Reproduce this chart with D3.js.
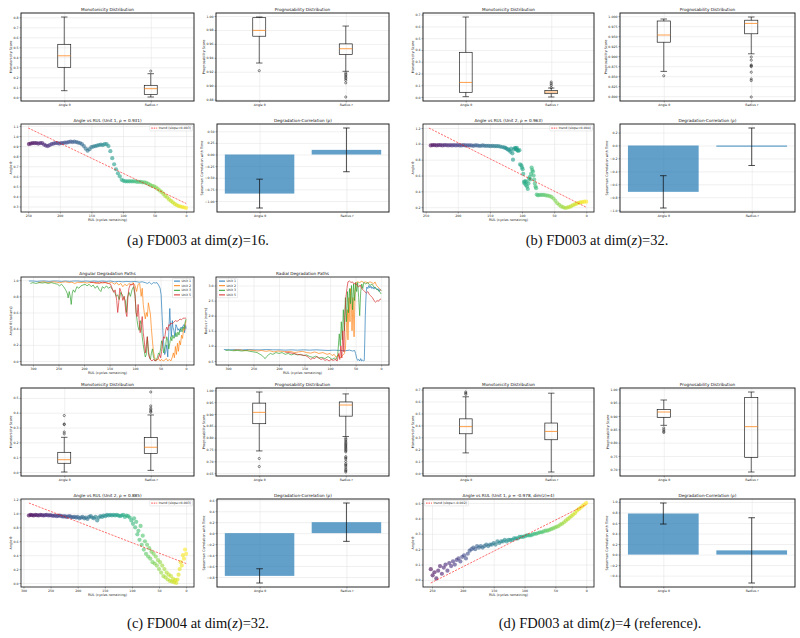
<!DOCTYPE html>
<html>
<head>
<meta charset="utf-8">
<script src="https://cdn.jsdelivr.net/npm/d3@7"></script>
<style>
body{margin:0;background:#fff}
svg{display:block}
</style>
</head>
<body>
<script>
// ---------- data ----------
var boxCats=["Angle θ","Radius r"];
var unitNames=["Unit 1","Unit 2","Unit 3","Unit 5"];
var captions=["(a) FD003","(b) FD003","(c) FD004","(d) FD003"];
var captionDims=["16","32","32","4"];

// box stats: [low whisker, q1, median, q3, high whisker]
var monoA=[[0.066,0.30,0.415,0.53,0.803],[0.003,0.027,0.086,0.12,0.236]];
var monoAOut=[[],[0.262]];
var progA=[[0.9325,0.971,0.9794,0.9976,0.9986],[0.9206,0.9445,0.953,0.960,0.9856]];
var progAOut=[[0.9215],[0.918,0.916,0.914,0.912,0.910,0.9077,0.904,0.8837]];
var corrA=[-0.84,0.10];
var corrAErr=[0.31,0.47];
var trendA=[[250,1.08],[0,0.33]];
var slopeA="0.003";

var monoB=[[0.003,0.04,0.124,0.38,0.68],[0.0,0.028,0.042,0.056,0.076]];
var monoBOut=[[],[0.08,0.10,0.113,0.127]];
var progB=[[0.862,0.935,0.953,0.988,0.993],[0.906,0.956,0.982,0.990,0.998]];
var progBOut=[[0.851],[0.898,0.890,0.878,0.876,0.874,0.860,0.843,0.839,0.798]];
var corrB=[-0.717,-0.019];
var corrBErr=[0.25,0.29];
var trendB=[[245,1.20],[0,0.20]];
var slopeB="0.004";

var monoC=[[0.0,0.059,0.083,0.133,0.234],[0.011,0.126,0.167,0.232,0.385]];
var monoCOut=[[0.257,0.27,0.32,0.324,0.381],[0.403,0.41,0.42,0.43,0.446,0.54]];
var progC=[[0.744,0.859,0.907,0.946,0.993],[0.805,0.891,0.938,0.951,0.985]];
var progCOut=[[0.712,0.678],[0.798,0.792,0.786,0.78,0.775,0.77,0.765,0.76,0.755,0.75,0.745,0.74,0.72,0.715,0.71,0.70,0.69,0.685,0.68,0.672,0.665,0.66,0.655]];
var corrC=[-0.78,0.20];
var corrCErr=[0.13,0.35];
var trendC=[[290,1.15],[0,0.28]];
var slopeC="0.003";

var monoD=[[0.17,0.33,0.39,0.455,0.64],[0.01,0.28,0.35,0.42,0.67]];
var monoDOut=[[0.66,0.67,0.68],[]];
var progD=[[0.865,0.895,0.915,0.925,0.96],[0.69,0.745,0.86,0.97,0.99]];
var progDOut=[[0.855,0.848,0.842,0.838],[]];
var corrD=[0.78,0.08];
var corrDErr=[0.20,0.62];
var trendD=[[252,-0.02],[0,0.49]];
var slopeD="-0.002";

// angle vs RUL scatter points: [RUL, angle]
var angleA=[[249,0.92],[246,0.925],[243,0.93],[240,0.93],[237,0.93],[234,0.925],[231,0.93],[228,0.93],[225,0.915],[222,0.905],[219,0.90],[216,0.91],[213,0.92],[210,0.925],[207,0.93],[204,0.93],[201,0.925],[198,0.93],[195,0.93],[192,0.935],[189,0.935],[186,0.94],[183,0.945],[180,0.94],[177,0.945],[174,0.94],[171,0.935],[168,0.93],[165,0.92],[162,0.90],[159,0.875],[156,0.855],[153,0.87],[150,0.89],[147,0.895],[144,0.90],[141,0.905],[138,0.91],[135,0.915],[132,0.91],[129,0.92],[126,0.92],[123,0.90],[120,0.85],[117,0.78],[114,0.72],[111,0.67],[108,0.63],[105,0.60],[102,0.565],[99,0.555],[96,0.55],[93,0.55],[90,0.55],[87,0.55],[84,0.55],[81,0.55],[78,0.545],[75,0.545],[72,0.545],[69,0.54],[66,0.54],[63,0.535],[60,0.525],[57,0.515],[54,0.505],[51,0.50],[48,0.49],[45,0.475],[42,0.46],[39,0.445],[36,0.425],[33,0.405],[30,0.39],[27,0.37],[24,0.355],[21,0.34],[18,0.325],[15,0.315],[12,0.305],[9,0.30],[6,0.295],[3,0.29],[0,0.285]];

var angleB=[[242,0.98],[239,0.985],[236,0.985],[233,0.98],[230,0.985],[227,0.985],[224,0.98],[221,0.985],[218,0.985],[215,0.98],[212,0.985],[209,0.98],[206,0.985],[203,0.98],[200,0.985],[197,0.98],[194,0.98],[191,0.985],[188,0.98],[185,0.98],[182,0.98],[179,0.98],[176,0.975],[173,0.98],[170,0.98],[167,0.975],[164,0.975],[161,0.98],[158,0.975],[155,0.975],[152,0.975],[149,0.97],[146,0.975],[143,0.97],[140,0.97],[137,0.97],[134,0.965],[131,0.96],[128,0.955],[126,0.95],[124,0.94],[122,0.93],[120,0.92],[118,0.90],[117,0.94],[115,0.88],[114,0.80],[113,0.93],[111,0.95],[110,0.94],[109,0.93],[108,0.95],[107,0.92],[106,0.91],[104,0.92],[103,0.74],[101,0.73],[100,0.70],[99,0.68],[98,0.62],[97,0.52],[96,0.50],[95,0.53],[94,0.48],[93,0.52],[92,0.46],[91,0.43],[90,0.50],[89,0.56],[88,0.58],[87,0.55],[86,0.62],[85,0.70],[84,0.67],[83,0.65],[82,0.60],[81,0.55],[80,0.50],[79,0.46],[78,0.44],[77,0.36],[75,0.35],[72,0.355],[69,0.355],[66,0.355],[63,0.35],[60,0.345],[57,0.34],[54,0.33],[51,0.31],[48,0.28],[45,0.25],[42,0.23],[39,0.21],[36,0.20],[33,0.19],[30,0.195],[27,0.20],[24,0.21],[21,0.225],[18,0.235],[15,0.245],[12,0.255],[9,0.26],[6,0.265],[3,0.27],[0,0.27]];

var angleC=[[290,0.97],[287,0.98],[284,0.975],[281,0.97],[278,0.98],[275,0.975],[272,0.97],[269,0.98],[266,0.975],[263,0.97],[260,0.975],[257,0.98],[254,0.97],[251,0.975],[248,0.97],[245,0.965],[242,0.97],[239,0.96],[236,0.965],[233,0.97],[230,0.96],[227,0.955],[224,0.96],[221,0.95],[218,0.955],[215,0.96],[212,0.95],[209,0.945],[206,0.95],[203,0.94],[200,0.95],[197,0.93],[194,0.94],[191,0.95],[188,0.93],[185,0.94],[182,0.92],[179,0.95],[176,0.96],[173,0.94],[170,0.93],[167,0.95],[164,0.90],[161,0.94],[158,0.96],[155,0.95],[152,0.97],[149,0.96],[146,0.98],[143,0.97],[140,0.98],[137,0.97],[134,0.98],[131,0.97],[128,0.98],[125,0.97],[122,0.96],[119,0.97],[116,0.98],[113,0.95],[110,0.97],[107,0.96],[104,0.94],[101,0.90],[98,0.85],[96,0.93],[94,0.80],[92,0.88],[90,0.70],[88,0.75],[86,0.62],[84,0.82],[82,0.55],[80,0.68],[78,0.48],[76,0.60],[74,0.42],[72,0.55],[70,0.38],[68,0.50],[66,0.35],[64,0.45],[62,0.30],[60,0.42],[58,0.28],[56,0.38],[54,0.25],[52,0.33],[50,0.20],[48,0.30],[46,0.15],[44,0.25],[42,0.10],[40,0.20],[38,0.08],[36,0.15],[34,0.05],[32,0.12],[30,0.03],[28,0.10],[26,0.02],[24,0.06],[22,0.01],[20,0.04],[18,0.0],[16,0.05],[14,0.12],[12,0.20],[10,0.30],[8,0.25],[6,0.40],[4,0.35],[2,0.48],[0,0.42]];

var angleD=[[252,0.07],[249,0.03],[246,0.05],[243,0.01],[240,0.06],[237,0.09],[234,0.04],[231,0.08],[228,0.10],[225,0.06],[222,0.11],[219,0.09],[216,0.12],[213,0.10],[210,0.13],[207,0.14],[204,0.12],[201,0.15],[198,0.16],[195,0.14],[192,0.17],[189,0.19],[186,0.20],[183,0.21],[180,0.20],[177,0.22],[174,0.21],[171,0.22],[168,0.21],[165,0.22],[162,0.23],[159,0.22],[156,0.23],[153,0.23],[150,0.24],[147,0.23],[144,0.25],[141,0.24],[138,0.25],[135,0.25],[132,0.26],[129,0.25],[126,0.26],[123,0.26],[120,0.26],[117,0.27],[114,0.27],[111,0.27],[108,0.28],[105,0.28],[102,0.28],[99,0.285],[96,0.29],[93,0.29],[90,0.29],[87,0.295],[84,0.30],[81,0.30],[78,0.305],[75,0.31],[72,0.31],[69,0.315],[66,0.32],[63,0.32],[60,0.325],[57,0.33],[54,0.335],[51,0.34],[48,0.345],[45,0.35],[42,0.36],[39,0.365],[36,0.375],[33,0.385],[30,0.395],[27,0.405],[24,0.415],[21,0.425],[18,0.435],[15,0.45],[12,0.46],[9,0.47],[6,0.48],[3,0.49],[0,0.50]];

// FD004 degradation paths: [RUL, value]
var pathAngle1=[[308,0.99],[300,0.99],[292,0.985],[284,0.99],[276,0.99],[268,0.985],[260,0.99],[252,0.99],[244,0.985],[236,0.99],[228,0.985],[220,0.99],[212,0.99],[204,0.985],[196,0.99],[188,0.985],[180,0.99],[172,0.985],[164,0.99],[156,0.985],[148,0.99],[140,0.98],[132,0.985],[124,0.98],[116,0.985],[108,0.98],[100,0.985],[92,0.975],[86,0.98],[80,0.97],[76,0.96],[72,0.975],[68,0.95],[64,0.97],[60,0.965],[57,0.97],[54,0.94],[51,0.90],[49,0.82],[47,0.55],[45,0.30],[43,0.15],[42,0.08],[40,0.12],[38,0.20],[36,0.05],[34,0.35],[32,0.65],[31,0.50],[29,0.30],[27,0.50],[26,0.42],[24,0.38],[22,0.30],[20,0.45],[18,0.42],[16,0.38],[14,0.40],[12,0.36],[10,0.42],[8,0.40],[6,0.44],[4,0.45],[3,0.35],[1,0.44],[0,0.40]];
var pathAngle2=[[290,0.97],[284,0.975],[278,0.98],[272,0.97],[266,0.975],[260,0.98],[254,0.975],[248,0.97],[242,0.975],[236,0.98],[230,0.97],[224,0.975],[218,0.96],[212,0.975],[206,0.97],[200,0.975],[194,0.965],[188,0.975],[182,0.97],[176,0.96],[170,0.975],[164,0.965],[158,0.97],[152,0.96],[146,0.975],[140,0.95],[136,0.97],[132,0.94],[128,0.96],[124,0.92],[120,0.95],[116,0.93],[112,0.96],[108,0.94],[104,0.97],[100,0.93],[97,0.86],[94,0.95],[91,0.96],[88,0.80],[86,0.90],[84,0.70],[82,0.60],[80,0.52],[78,0.60],[76,0.55],[74,0.72],[72,0.65],[70,0.58],[68,0.40],[66,0.25],[64,0.12],[62,0.05],[60,0.02],[57,0.01],[54,0.03],[51,0.0],[48,0.02],[45,0.0],[42,0.01],[39,0.03],[36,0.0],[33,0.02],[30,0.0],[27,0.05],[25,0.10],[23,0.04],[21,0.18],[19,0.08],[17,0.22],[15,0.12],[13,0.25],[11,0.20],[9,0.32],[7,0.28],[5,0.40],[3,0.38],[1,0.48],[0,0.50]];
var pathAngle3=[[305,0.96],[300,0.97],[294,0.96],[288,0.97],[282,0.965],[276,0.97],[270,0.96],[264,0.97],[258,0.96],[252,0.95],[248,0.93],[244,0.95],[240,0.92],[236,0.88],[233,0.84],[231,0.78],[229,0.86],[227,0.80],[225,0.70],[223,0.84],[221,0.88],[218,0.85],[214,0.92],[210,0.90],[206,0.93],[202,0.94],[198,0.95],[194,0.93],[190,0.95],[186,0.92],[182,0.94],[178,0.90],[174,0.93],[170,0.88],[167,0.86],[164,0.92],[160,0.90],[156,0.93],[152,0.90],[148,0.92],[144,0.88],[140,0.85],[137,0.80],[134,0.82],[131,0.76],[128,0.85],[125,0.82],[122,0.78],[119,0.75],[117,0.60],[115,0.78],[112,0.85],[109,0.80],[106,0.88],[103,0.92],[100,0.80],[98,0.60],[96,0.50],[94,0.42],[92,0.38],[90,0.50],[88,0.45],[86,0.30],[84,0.20],[82,0.12],[80,0.05],[78,0.08],[76,0.30],[74,0.15],[72,0.05],[70,0.02],[68,0.10],[66,0.15],[64,0.05],[62,0.02],[60,0.0],[58,0.02],[56,0.05],[54,0.10],[52,0.08],[50,0.15],[48,0.25],[46,0.20],[44,0.10],[42,0.15],[40,0.20],[38,0.30],[36,0.25],[34,0.15],[32,0.22],[30,0.30],[28,0.25],[26,0.32],[24,0.28],[22,0.30],[20,0.35],[18,0.30],[16,0.36],[14,0.32],[12,0.38],[10,0.40],[8,0.36],[6,0.42],[4,0.40],[2,0.48],[0,0.52]];
var pathAngle5=[[188,0.97],[182,0.975],[176,0.97],[170,0.96],[164,0.975],[158,0.97],[152,0.96],[148,0.95],[145,0.90],[142,0.85],[139,0.88],[136,0.75],[134,0.60],[132,0.72],[130,0.90],[127,0.85],[124,0.75],[121,0.80],[118,0.60],[116,0.55],[114,0.80],[112,0.90],[109,0.95],[106,0.94],[103,0.96],[100,0.82],[98,0.60],[96,0.55],[94,0.70],[92,0.50],[90,0.35],[88,0.45],[86,0.55],[84,0.35],[82,0.25],[80,0.10],[78,0.20],[76,0.30],[74,0.10],[72,0.05],[70,0.02],[67,0.0],[64,0.02],[61,0.0],[58,0.01],[55,0.03],[52,0.08],[50,0.04],[48,0.12],[46,0.25],[44,0.30],[42,0.28],[40,0.38],[38,0.42],[36,0.38],[34,0.45],[32,0.44],[30,0.47],[27,0.46],[24,0.48],[21,0.50],[18,0.49],[15,0.50],[12,0.52],[9,0.51],[6,0.53],[3,0.53],[0,0.53]];

var pathRadius1=[[308,0.88],[296,0.87],[284,0.88],[272,0.87],[260,0.88],[248,0.87],[236,0.87],[224,0.88],[212,0.87],[200,0.87],[188,0.86],[176,0.87],[164,0.86],[152,0.87],[140,0.86],[128,0.87],[116,0.86],[104,0.85],[92,0.86],[80,0.85],[70,0.84],[62,0.86],[56,0.83],[52,0.85],[50,0.75],[48,0.60],[46,0.52],[44,0.55],[42,0.50],[40,0.58],[38,0.50],[36,0.53],[34,0.50],[33,0.52],[32,1.2],[31,2.0],[30,2.5],[29,2.8],[28,2.95],[26,2.9],[24,3.0],[22,2.92],[20,2.98],[18,2.9],[16,2.95],[14,2.88],[12,2.95],[10,2.9],[8,2.85],[6,2.9],[4,2.8],[2,2.88],[0,2.82]];
var pathRadius2=[[290,0.85],[282,0.87],[274,0.86],[266,0.84],[258,0.86],[250,0.85],[242,0.83],[234,0.85],[226,0.82],[218,0.84],[210,0.80],[202,0.83],[194,0.82],[186,0.80],[178,0.82],[170,0.78],[162,0.80],[154,0.82],[146,0.78],[138,0.76],[130,0.80],[122,0.75],[114,0.78],[106,0.72],[100,0.75],[96,0.68],[92,0.72],[88,0.62],[84,0.70],[80,0.60],[76,0.68],[72,0.75],[70,0.90],[68,1.6],[66,2.2],[65,1.2],[63,2.6],[61,1.8],[60,2.9],[58,2.2],[57,1.5],[55,2.6],[53,1.3],[51,2.8],[49,3.1],[46,3.12],[42,3.1],[38,3.14],[34,3.1],[30,3.12],[26,3.08],[22,3.12],[18,3.1],[15,3.05],[12,3.12],[9,3.0],[6,2.95],[3,2.9],[0,2.82]];
var pathRadius3=[[305,0.85],[297,0.86],[289,0.84],[281,0.85],[273,0.83],[265,0.85],[257,0.82],[249,0.80],[243,0.78],[237,0.72],[233,0.68],[230,0.62],[227,0.58],[224,0.65],[221,0.70],[217,0.75],[212,0.72],[206,0.78],[200,0.75],[194,0.78],[188,0.72],[182,0.75],[176,0.70],[170,0.74],[164,0.70],[158,0.72],[152,0.68],[146,0.70],[140,0.65],[134,0.62],[128,0.66],[122,0.60],[116,0.62],[110,0.58],[104,0.65],[100,0.60],[96,0.55],[92,0.60],[88,0.55],[85,0.70],[82,1.4],[80,1.0],[78,1.8],[76,1.2],[74,2.2],[72,1.5],[70,2.6],[68,1.8],[66,2.8],[64,2.1],[62,2.9],[60,2.4],[58,3.0],[56,2.2],[54,3.05],[52,2.5],[50,3.1],[48,2.8],[46,3.1],[44,2.6],[42,2.0],[40,2.8],[38,3.05],[36,2.9],[34,3.1],[30,3.05],[26,3.1],[22,3.0],[18,3.05],[14,2.95],[10,2.9],[6,2.85],[3,2.8],[0,2.72]];
var pathRadius5=[[188,0.80],[180,0.78],[172,0.75],[164,0.72],[156,0.70],[148,0.68],[142,0.62],[138,0.55],[134,0.60],[130,0.58],[126,0.65],[122,0.60],[118,0.55],[114,0.58],[110,0.52],[106,0.55],[102,0.50],[98,0.55],[94,0.52],[90,0.55],[86,0.50],[83,0.75],[81,0.55],[79,1.0],[77,0.60],[75,1.5],[73,0.80],[71,2.0],[69,2.6],[67,2.9],[65,3.12],[62,3.15],[59,3.1],[56,3.12],[53,3.05],[50,3.08],[47,3.0],[44,2.95],[41,3.02],[38,2.9],[35,2.85],[32,2.8],[29,2.75],[26,2.8],[23,2.7],[20,2.65],[17,2.6],[14,2.5],[11,2.45],[8,2.5],[5,2.48],[2,2.55],[0,2.55]];

var unitColors=["#1f77b4","#ff7f0e","#2ca02c","#d62728"];

// ---------- drawing ----------
var FONT='"DejaVu Sans", sans-serif';
var FS_TITLE=4.2, FS_TICK=3.2, FS_LABEL=3.4, FS_LEG=3.2;

var svg=d3.select("body").append("svg").attr("width",800).attr("height",638);

function pad(lo,hi){var m=(hi-lo)*0.05;return [lo-m,hi+m];}

function axes(r,xDom,yDom,o){
    var x0=r[0],y0=r[1],x1=r[2],y1=r[3];
    var x=d3.scaleLinear().domain(xDom).range([x0,x1]);
    var y=d3.scaleLinear().domain(yDom).range([y1,y0]);
    var ylo=Math.min(yDom[0],yDom[1]),yhi=Math.max(yDom[0],yDom[1]);
    var yT=o.yTicks.filter(function(v){return v>=ylo-1e-9&&v<=yhi+1e-9;});
    var g=svg.append("g");
    var grid=g.append("g");
    grid.append("g").attr("transform","translate(0,"+y1+")")
        .call(d3.axisBottom(x).tickValues(o.xTicks).tickSize(-(y1-y0)).tickFormat(""));
    grid.append("g").attr("transform","translate("+x0+",0)")
        .call(d3.axisLeft(y).tickValues(yT).tickSize(-(x1-x0)).tickFormat(""));
    grid.selectAll(".domain").remove();
    grid.selectAll("line").attr("stroke","#e0e0e0").attr("stroke-width",0.5);
    var marks=g.append("g");
    var xa=g.append("g").attr("transform","translate(0,"+y1+")")
        .call(d3.axisBottom(x).tickValues(o.xTicks).tickFormat(o.xFmt).tickSizeOuter(0).tickSizeInner(1.5).tickPadding(1));
    var ya=g.append("g").attr("transform","translate("+x0+",0)")
        .call(d3.axisLeft(y).tickValues(yT).tickFormat(o.yFmt).tickSizeOuter(0).tickSizeInner(1.5).tickPadding(1));
    [xa,ya].forEach(function(a){
        a.select(".domain").remove();
        a.attr("font-size",FS_TICK).attr("font-family",FONT);
        a.selectAll("line").attr("stroke","#333").attr("stroke-width",0.4);
        a.selectAll("text").attr("fill","#222");
    });
    g.append("rect").attr("x",x0).attr("y",y0).attr("width",x1-x0).attr("height",y1-y0)
        .attr("fill","none").attr("stroke","#1a1a1a").attr("stroke-width",o.frameW||0.85);
    g.append("text").attr("x",(x0+x1)/2).attr("y",y0-2.2).attr("text-anchor","middle")
        .attr("font-size",FS_TITLE).attr("font-family",FONT).attr("fill","#111").text(o.title);
    if(o.xLabel){
        g.append("text").attr("x",(x0+x1)/2).attr("y",y1+8.6).attr("text-anchor","middle")
            .attr("font-size",FS_LABEL).attr("font-family",FONT).attr("fill","#222").text(o.xLabel);
    }
    if(o.yLabel){
        // getBBox is in the axis group's own coordinates (shifted by x0)
        var bb=ya.node().getBBox();
        g.append("text").attr("transform","translate("+(x0+bb.x-1.4)+","+((y0+y1)/2)+") rotate(-90)")
            .attr("text-anchor","middle").attr("font-size",FS_LABEL).attr("font-family",FONT)
            .attr("fill","#222").text(o.yLabel);
    }
    return {x:x,y:y,marks:marks,g:g};
}

function legend(a,items,corner,r){
    var lg=a.g.append("g");
    var box=lg.append("rect").attr("fill","#fff").attr("fill-opacity",0.85)
        .attr("stroke","#ccc").attr("stroke-width",0.4).attr("rx",0.8);
    var rowH=4.6,w=0;
    items.forEach(function(it,i){
        var yy=2.6+i*rowH;
        lg.append("line").attr("x1",1.5).attr("x2",7.5).attr("y1",yy).attr("y2",yy)
            .attr("stroke",it.color).attr("stroke-width",it.dash?0.7:1)
            .attr("stroke-dasharray",it.dash?"1.6,0.9":null);
        var t=lg.append("text").attr("x",9).attr("y",yy+1.1).attr("font-size",FS_LEG)
            .attr("font-family",FONT).attr("fill","#222").text(it.label);
        w=Math.max(w,t.node().getComputedTextLength());
    });
    var bw=w+10.5,bh=items.length*rowH+0.8;
    box.attr("width",bw).attr("height",bh);
    var lx=corner==="left"?r[0]+1.5:r[2]-1.5-bw;
    lg.attr("transform","translate("+lx+","+(r[1]+1.5)+")");
}

function boxPanel(r,stats,fliers,yTicks,yFmt,title,yLabel){
    var all=d3.merge(stats).concat(d3.merge(fliers));
    var a=axes(r,[0.5,2.5],pad(d3.min(all),d3.max(all)),{
        xTicks:[1,2],xFmt:function(d,i){return boxCats[i];},
        yTicks:yTicks,yFmt:d3.format(yFmt),title:title,yLabel:yLabel,frameW:0.95});
    stats.forEach(function(s,i){
        var cx=a.x(i+1),hw=a.x(1.075)-a.x(1),cw=hw/2;
        var m=a.marks.append("g").attr("stroke","#111").attr("stroke-width",0.65).attr("fill","none");
        m.append("line").attr("x1",cx).attr("x2",cx).attr("y1",a.y(s[0])).attr("y2",a.y(s[1]));
        m.append("line").attr("x1",cx).attr("x2",cx).attr("y1",a.y(s[3])).attr("y2",a.y(s[4]));
        m.append("line").attr("x1",cx-cw).attr("x2",cx+cw).attr("y1",a.y(s[0])).attr("y2",a.y(s[0]));
        m.append("line").attr("x1",cx-cw).attr("x2",cx+cw).attr("y1",a.y(s[4])).attr("y2",a.y(s[4]));
        m.append("rect").attr("x",cx-hw).attr("width",2*hw).attr("y",a.y(s[3])).attr("height",a.y(s[1])-a.y(s[3]));
        a.marks.append("line").attr("x1",cx-hw).attr("x2",cx+hw).attr("y1",a.y(s[2])).attr("y2",a.y(s[2]))
            .attr("stroke","#ff7f0e").attr("stroke-width",0.75);
        a.marks.selectAll(null).data(fliers[i]).join("circle")
            .attr("cx",cx).attr("cy",function(d){return a.y(d);}).attr("r",1.1)
            .attr("fill","none").attr("stroke","#111").attr("stroke-width",0.5);
    });
}

function barPanel(r,vals,errs,yTicks,yFmt){
    var lo=d3.min(vals.map(function(v,i){return Math.min(0,v-errs[i]);}));
    var hi=d3.max(vals.map(function(v,i){return Math.max(0,v+errs[i]);}));
    var a=axes(r,[-0.49,1.49],pad(lo,hi),{
        xTicks:[0,1],xFmt:function(d,i){return boxCats[i];},
        yTicks:yTicks,yFmt:d3.format(yFmt),title:"Degradation-Correlation (ρ)",
        yLabel:"Spearman Correlation with Time",frameW:0.95});
    a.marks.selectAll("rect.bar").data(vals).join("rect").attr("class","bar")
        .attr("x",function(d,i){return a.x(i-0.4);}).attr("width",a.x(0.8)-a.x(0))
        .attr("y",function(d){return a.y(Math.max(0,d));})
        .attr("height",function(d){return Math.abs(a.y(d)-a.y(0));})
        .attr("fill","#1f77b4").attr("fill-opacity",0.7);
    vals.forEach(function(v,i){
        var cx=a.x(i),e=a.marks.append("g").attr("stroke","#111").attr("stroke-width",0.75);
        e.append("line").attr("x1",cx).attr("x2",cx).attr("y1",a.y(v-errs[i])).attr("y2",a.y(v+errs[i]));
        e.append("line").attr("x1",cx-3.3).attr("x2",cx+3.3).attr("y1",a.y(v-errs[i])).attr("y2",a.y(v-errs[i]));
        e.append("line").attr("x1",cx-3.3).attr("x2",cx+3.3).attr("y1",a.y(v+errs[i])).attr("y2",a.y(v+errs[i]));
    });
}

function scatterPanel(r,pts,trend,slope,xTicks,yTicks,title,corner){
    var xs=pts.map(function(p){return p[0];}),ys=pts.map(function(p){return p[1];});
    var xd=pad(d3.min(xs),d3.max(xs));
    var yd=pad(Math.min(d3.min(ys),trend[0][1],trend[1][1]),Math.max(d3.max(ys),trend[0][1],trend[1][1]));
    var a=axes(r,[xd[1],xd[0]],yd,{xTicks:xTicks,xFmt:d3.format("d"),yTicks:yTicks,yFmt:d3.format(".1f"),
        title:title,xLabel:"RUL (cycles remaining)",yLabel:"Angle θ"});
    var col=d3.scaleSequential(d3.interpolateViridis).domain([d3.max(xs),0]);
    a.marks.selectAll("circle").data(pts).join("circle")
        .attr("cx",function(d){return a.x(d[0]);}).attr("cy",function(d){return a.y(d[1]);})
        .attr("r",2.1).attr("fill",function(d){return col(d[0]);}).attr("fill-opacity",0.6);
    a.marks.append("line").attr("x1",a.x(trend[0][0])).attr("y1",a.y(trend[0][1]))
        .attr("x2",a.x(trend[1][0])).attr("y2",a.y(trend[1][1]))
        .attr("stroke","#ff0000").attr("stroke-opacity",0.8).attr("stroke-width",0.7).attr("stroke-dasharray","2.2,1.2");
    legend(a,[{color:"#ff0000",dash:true,label:"trend (slope="+slope+")"}],corner,r);
}

function pathPanel(r,series,xTicks,yTicks,title,yLabel,corner){
    var all=d3.merge(series);
    var xd=pad(d3.min(all,function(p){return p[0];}),d3.max(all,function(p){return p[0];}));
    var yd=pad(d3.min(all,function(p){return p[1];}),d3.max(all,function(p){return p[1];}));
    var a=axes(r,[xd[1],xd[0]],yd,{xTicks:xTicks,xFmt:d3.format("d"),yTicks:yTicks,yFmt:d3.format(".1f"),
        title:title,xLabel:"RUL (cycles remaining)",yLabel:yLabel});
    var line=d3.line().x(function(d){return a.x(d[0]);}).y(function(d){return a.y(d[1]);});
    series.forEach(function(s,i){
        a.marks.append("path").attr("d",line(s)).attr("fill","none").attr("stroke",unitColors[i])
            .attr("stroke-width",0.8).attr("stroke-opacity",0.85).attr("stroke-linejoin","round");
    });
    legend(a,unitNames.map(function(n,i){return {color:unitColors[i],label:n};}),corner,r);
}

function caption(cx,y,i){
    var t=svg.append("text").attr("x",cx).attr("y",y).attr("text-anchor","middle")
        .attr("font-family",'"Liberation Serif","Times New Roman",serif').attr("font-size",14.5).attr("fill","#111");
    t.append("tspan").text(captions[i]+" at dim(");
    t.append("tspan").attr("font-style","italic").text("z");
    t.append("tspan").text(")="+captionDims[i]+(i===3?" (reference)":"")+".");
}

var rul250=[250,200,150,100,50,0], rul300=[300,250,200,150,100,50,0];

// (a) FD003 dim 16
boxPanel([21,13,194,101],monoA,monoAOut,d3.range(0,0.81,0.1),".1f","Monotonicity Distribution","Monotonicity Score");
boxPanel([216,13,389,101],progA,progAOut,d3.range(0.88,1.001,0.02),".2f","Prognosability Distribution","Prognosability Score");
scatterPanel([21,124,194,212],angleA,trendA,slopeA,rul250,d3.range(0.3,1.11,0.1),"Angle vs RUL (Unit 1, ρ = 0.931)","right");
barPanel([217,124,389,212],corrA,corrAErr,[-1,-0.75,-0.5,-0.25,0,0.25,0.5],".2f");
caption(198,245,0);

// (b) FD003 dim 32
boxPanel([423,13,594,101],monoB,monoBOut,d3.range(0,0.71,0.1),".1f","Monotonicity Distribution","Monotonicity Score");
boxPanel([620,13,795,101],progB,progBOut,[0.8,0.825,0.85,0.875,0.9,0.925,0.95,0.975,1.0],".3f","Prognosability Distribution","Prognosability Score");
scatterPanel([423,124,594,212],angleB,trendB,slopeB,rul250,[0.2,0.4,0.6,0.8,1.0,1.2],"Angle vs RUL (Unit 2, ρ = 0.963)","right");
barPanel([620,124,795,212],corrB,corrBErr,[-1,-0.8,-0.6,-0.4,-0.2,0,0.2],".1f");
caption(597,245,1);

// (c) FD004 dim 32
pathPanel([21,277,194,365],[pathAngle1,pathAngle2,pathAngle3,pathAngle5],rul300,[0,0.2,0.4,0.6,0.8,1.0],"Angular Degradation Paths","Angle θ (radians)","right");
pathPanel([216,277,389,365],[pathRadius1,pathRadius2,pathRadius3,pathRadius5],rul300,[0.5,1,1.5,2,2.5,3],"Radial Degradation Paths","Radius r (norm)","left");
boxPanel([21,388,194,476],monoC,monoCOut,[0,0.1,0.2,0.3,0.4,0.5],".1f","Monotonicity Distribution","Monotonicity Score");
boxPanel([216,388,389,476],progC,progCOut,[0.65,0.7,0.75,0.8,0.85,0.9,0.95,1.0],".2f","Prognosability Distribution","Prognosability Score");
scatterPanel([21,499,194,587],angleC,trendC,slopeC,rul300,[0,0.2,0.4,0.6,0.8,1.0,1.2],"Angle vs RUL (Unit 2, ρ = 0.885)","right");
barPanel([217,499,389,587],corrC,corrCErr,[-0.8,-0.6,-0.4,-0.2,0,0.2,0.4,0.6],".1f");
caption(198,628,2);

// (d) FD003 dim 4 (reference)
boxPanel([423,388,594,476],monoD,monoDOut,[0,0.1,0.2,0.3,0.4,0.5,0.6,0.7],".1f","Monotonicity Distribution","Monotonicity Score");
boxPanel([620,388,795,476],progD,progDOut,[0.7,0.75,0.8,0.85,0.9,0.95,1.0],".2f","Prognosability Distribution","Prognosability Score");
scatterPanel([423,499,594,587],angleD,trendD,slopeD,rul250,[0,0.1,0.2,0.3,0.4,0.5],"Angle vs RUL (Unit 1, ρ = -0.978, dim(z)=4)","left");
barPanel([620,499,795,587],corrD,corrDErr,[-0.4,-0.2,0,0.2,0.4,0.6,0.8,1.0],".1f");
caption(600,628,3);
</script>
</body>
</html>
